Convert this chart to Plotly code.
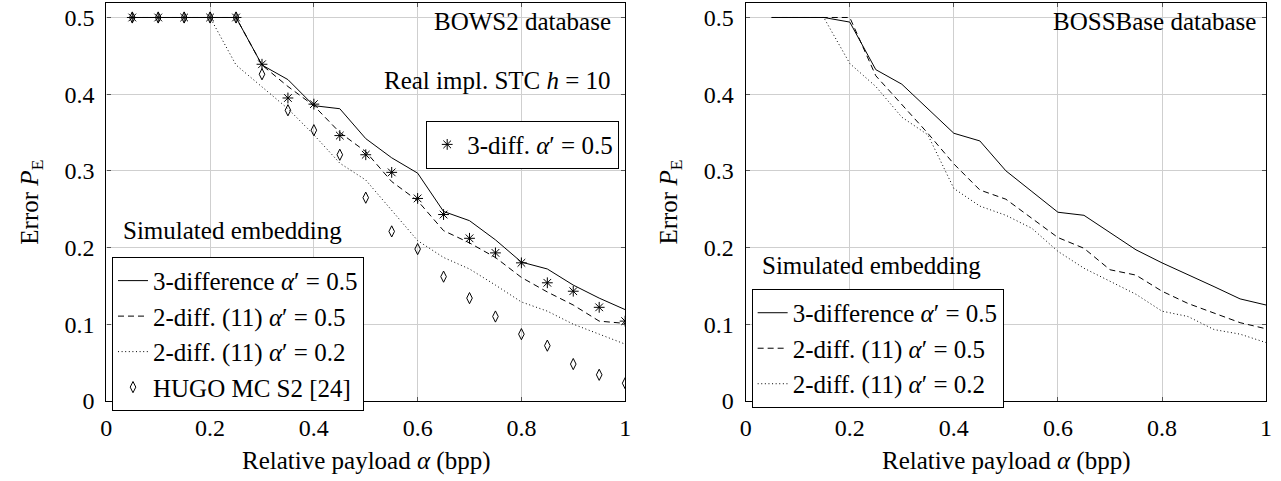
import plotly.graph_objects as go

# ---------------- data ----------------
payload = [0.05, 0.10, 0.15, 0.20, 0.25, 0.30, 0.35, 0.40, 0.45, 0.50,
           0.55, 0.60, 0.65, 0.70, 0.75, 0.80, 0.85, 0.90, 0.95, 1.00]

# BOWS2 (left)
bows_3diff_05 = [0.5, 0.5, 0.5, 0.5, 0.5, 0.438, 0.419, 0.385, 0.381, 0.342,
                 0.317, 0.297, 0.247, 0.235, 0.210, 0.181, 0.172, 0.151, 0.134, 0.119]
bows_2diff_05 = [0.5, 0.5, 0.5, 0.5, 0.5, 0.438, 0.410, 0.385, 0.350, 0.325,
                 0.286, 0.261, 0.222, 0.206, 0.187, 0.161, 0.142, 0.125, 0.104, 0.101]
bows_2diff_02 = [0.5, 0.5, 0.5, 0.5, 0.438, 0.410, 0.381, 0.347, 0.310, 0.288,
                 0.248, 0.209, 0.187, 0.172, 0.151, 0.129, 0.117, 0.100, 0.087, 0.074]
bows_stc_3diff = [0.5, 0.5, 0.5, 0.5, 0.5, 0.439, 0.395, 0.387, 0.346, 0.321,
                  0.298, 0.264, 0.243, 0.212, 0.193, 0.180, 0.154, 0.143, 0.122, 0.104]
bows_hugo = [0.5, 0.5, 0.5, 0.5, 0.5, 0.426, 0.379, 0.353, 0.321, 0.265,
             0.221, 0.198, 0.162, 0.134, 0.110, 0.087, 0.072, 0.048, 0.034, 0.023]

# BOSSBase (right)
boss_3diff_05 = [0.5, 0.5, 0.5, 0.494, 0.432, 0.413, 0.381, 0.349, 0.339, 0.300,
                 0.273, 0.246, 0.242, 0.219, 0.197, 0.180, 0.165, 0.149, 0.133, 0.125]
boss_2diff_05 = [0.5, 0.5, 0.5, 0.5, 0.424, 0.387, 0.349, 0.309, 0.275, 0.263,
                 0.238, 0.213, 0.199, 0.171, 0.164, 0.143, 0.127, 0.114, 0.102, 0.094]
boss_2diff_02 = [0.5, 0.5, 0.5, 0.440, 0.410, 0.370, 0.347, 0.277, 0.254, 0.242,
                 0.225, 0.195, 0.173, 0.156, 0.139, 0.117, 0.110, 0.093, 0.087, 0.076]

x_ticks = [0, 0.2, 0.4, 0.6, 0.8, 1]
x_tick_labels = ["0", "0.2", "0.4", "0.6", "0.8", "1"]
y_ticks = [0, 0.1, 0.2, 0.3, 0.4, 0.5]
y_tick_labels = ["0", "0.1", "0.2", "0.3", "0.4", "0.5"]

name_3diff = "3-difference <i>α</i>′ = 0.5"
name_2d05 = "2-diff. (11) <i>α</i>′ = 0.5"
name_2d02 = "2-diff. (11) <i>α</i>′ = 0.2"
name_hugo = "HUGO MC S2 [24]"
name_stc = "3-diff. <i>α</i>′ = 0.5"

# ---------------- figure ----------------
W, H = 1281, 481
FONT = "Liberation Serif, Times New Roman, serif"
DASH = "6px,4px"
DOT = "1px,2.6px"
TXT = 25
LEG = 25
TICK = 24


def px(xp):
    return xp / W


def py(yp):
    return (H - yp) / H


fig = go.Figure()

line_kw = dict(color="black", width=1)

# left panel
fig.add_trace(go.Scatter(x=payload, y=bows_3diff_05, mode="lines", name=name_3diff,
                         line=dict(line_kw, dash="solid"), xaxis="x", yaxis="y", legend="legend"))
fig.add_trace(go.Scatter(x=payload, y=bows_2diff_05, mode="lines", name=name_2d05,
                         line=dict(line_kw, dash=DASH), xaxis="x", yaxis="y", legend="legend"))
fig.add_trace(go.Scatter(x=payload, y=bows_2diff_02, mode="lines", name=name_2d02,
                         line=dict(line_kw, dash=DOT), xaxis="x", yaxis="y", legend="legend"))
fig.add_trace(go.Scatter(x=payload, y=bows_hugo, mode="markers", name=name_hugo,
                         marker=dict(symbol="diamond-tall-open", size=8, color="black",
                                     line=dict(width=1, color="black")),
                         xaxis="x", yaxis="y", legend="legend"))
fig.add_trace(go.Scatter(x=payload, y=bows_stc_3diff, mode="markers", name=name_stc,
                         marker=dict(symbol="asterisk-open", size=9, color="black",
                                     line=dict(width=1, color="black")),
                         xaxis="x", yaxis="y", legend="legend2"))

# right panel
fig.add_trace(go.Scatter(x=payload, y=boss_3diff_05, mode="lines", name=name_3diff,
                         line=dict(line_kw, dash="solid"), xaxis="x2", yaxis="y2", legend="legend3"))
fig.add_trace(go.Scatter(x=payload, y=boss_2diff_05, mode="lines", name=name_2d05,
                         line=dict(line_kw, dash=DASH), xaxis="x2", yaxis="y2", legend="legend3"))
fig.add_trace(go.Scatter(x=payload, y=boss_2diff_02, mode="lines", name=name_2d02,
                         line=dict(line_kw, dash=DOT), xaxis="x2", yaxis="y2", legend="legend3"))

y_dom = [py(412), py(3)]
axis_common = dict(
    showline=True, linecolor="black", linewidth=1.3, mirror="allticks",
    showgrid=True, gridcolor="#cfcfcf", gridwidth=1,
    ticks="inside", ticklen=4, tickcolor="#555555", tickwidth=1,
    zeroline=False, tickfont=dict(family=FONT, size=TICK, color="black"),
)

leg_common = dict(bgcolor="white", bordercolor="black", borderwidth=1,
                  font=dict(family=FONT, size=LEG, color="black"))

fig.update_layout(
    width=W, height=H,
    margin=dict(l=0, r=0, t=0, b=0),
    paper_bgcolor="white", plot_bgcolor="white",
    font=dict(family=FONT, size=TXT, color="black"),
    xaxis=dict(axis_common, domain=[px(101.3), px(625)], range=[0, 1],
               tickvals=x_ticks, ticktext=x_tick_labels, anchor="y", ticklabelstandoff=5),
    yaxis=dict(axis_common, domain=y_dom, range=[0, 0.519],
               tickvals=y_ticks, ticktext=y_tick_labels, anchor="x", ticklabelstandoff=6),
    xaxis2=dict(axis_common, domain=[px(746.7), px(1272)], range=[0, 1],
                tickvals=x_ticks, ticktext=x_tick_labels, anchor="y2", ticklabelstandoff=5),
    yaxis2=dict(axis_common, domain=y_dom, range=[0, 0.519],
                tickvals=y_ticks, ticktext=y_tick_labels, anchor="x2", ticklabelstandoff=6),
    legend=dict(leg_common, x=px(107), y=py(264), xanchor="left", yanchor="top"),
    legend2=dict(leg_common, x=px(619), y=py(124), xanchor="right", yanchor="top"),
    legend3=dict(leg_common, x=px(752.7), y=py(297), xanchor="left", yanchor="top"),
    showlegend=True,
)

ann = [
    dict(text="BOWS2 database", x=px(613), y=py(22), xanchor="right", yanchor="middle"),
    dict(text="Real impl. STC <i>h</i> = 10", x=px(613), y=py(83), xanchor="right", yanchor="middle"),
    dict(text="Simulated embedding", x=px(116), y=py(237), xanchor="left", yanchor="middle"),
    dict(text="BOSSBase database", x=px(1264), y=py(22), xanchor="right", yanchor="middle"),
    dict(text="Simulated embedding", x=px(761), y=py(273), xanchor="left", yanchor="middle"),
    dict(text="Error <i>P</i><sub>E</sub>", x=px(26), y=py(207.5), xanchor="center", yanchor="middle",
         textangle=-90),
    dict(text="Error <i>P</i><sub>E</sub>", x=px(671), y=py(207.5), xanchor="center", yanchor="middle",
         textangle=-90),
    dict(text="Relative payload <i>α</i> (bpp)", x=px(363), y=py(474), xanchor="center", yanchor="middle"),
    dict(text="Relative payload <i>α</i> (bpp)", x=px(1009), y=py(474), xanchor="center", yanchor="middle"),
]
for a in ann:
    fig.add_annotation(xref="paper", yref="paper", showarrow=False,
                       font=dict(family=FONT, size=TXT, color="black"), **a)

fig.write_html("out.html",
               config={"displayModeBar": False},
               post_script="document.body.style.margin='0';document.body.style.overflow='hidden';")
